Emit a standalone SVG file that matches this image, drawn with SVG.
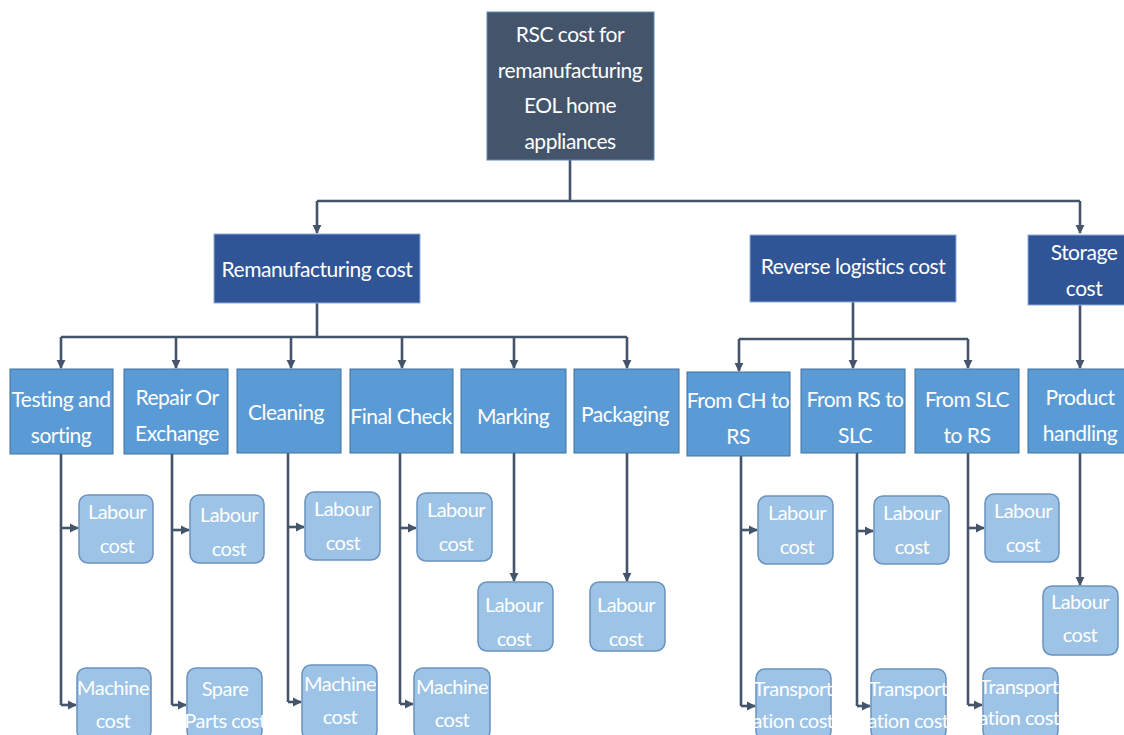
<svg xmlns="http://www.w3.org/2000/svg" width="1124" height="735" viewBox="0 0 1124 735">
  <defs>
    <marker id="arr" viewBox="0 0 10 10" refX="9" refY="5" markerWidth="3.5" markerHeight="3.5" orient="auto" markerUnits="strokeWidth">
      <path d="M0,0 L10,5 L0,10 Z" fill="#44546a"/>
    </marker>
    <style>
      text { font-family: Lato, "Open Sans", "Liberation Sans", sans-serif; fill: #ffffff; text-anchor: middle; dominant-baseline: central; letter-spacing: -0.5px; }
      .root { fill: #44546a; stroke: #5b87b8; stroke-width: 1; }
      .l1 { fill: #2f5597; stroke: #8eaadb; stroke-width: 1; }
      .l2 { fill: #5b9bd5; stroke: #41719c; stroke-width: 1; }
      .leaf { fill: #9dc3e6; stroke: #6a93bf; stroke-width: 1.5; }
      .t1 { font-size: 21px; }
      .t2 { font-size: 21px; }
      .t3 { font-size: 20px; }
      .conn { fill: none; stroke: #44546a; stroke-width: 2.6; }
      .conn-a { fill: none; stroke: #44546a; stroke-width: 2.6; marker-end: url(#arr); }
    </style>
  </defs>

  <rect width="1124" height="735" fill="#ffffff"/>

  <!-- connectors -->
  <g id="connectors">
    <path class="conn" d="M570,160 V201 M317,201 H1080"/>
    <path class="conn-a" d="M317,201 V233"/>
    <path class="conn-a" d="M1080,201 V233"/>

    <path class="conn" d="M317,303 V337 M61,337 H627"/>
    <path class="conn-a" d="M61,337 V368"/>
    <path class="conn-a" d="M176,337 V368"/>
    <path class="conn-a" d="M291,337 V368"/>
    <path class="conn-a" d="M402,337 V368"/>
    <path class="conn-a" d="M514,337 V368"/>
    <path class="conn-a" d="M627,337 V368"/>

    <path class="conn" d="M853,302 V339 M739,339 H968"/>
    <path class="conn-a" d="M739,339 V371"/>
    <path class="conn-a" d="M853,339 V368"/>
    <path class="conn-a" d="M968,339 V368"/>
    <path class="conn-a" d="M1080,305 V368"/>

    <!-- Testing and sorting -->
    <path class="conn" d="M61,454 V705"/>
    <path class="conn-a" d="M61,528 H78"/>
    <path class="conn-a" d="M61,705 H76"/>
    <!-- Repair Or Exchange -->
    <path class="conn" d="M172,454 V705"/>
    <path class="conn-a" d="M172,530 H189"/>
    <path class="conn-a" d="M172,705 H186"/>
    <!-- Cleaning -->
    <path class="conn" d="M288,453 V702"/>
    <path class="conn-a" d="M288,527 H304"/>
    <path class="conn-a" d="M288,702 H301"/>
    <!-- Final Check -->
    <path class="conn" d="M400,453 V704"/>
    <path class="conn-a" d="M400,528 H416"/>
    <path class="conn-a" d="M400,704 H413"/>
    <!-- Marking / Packaging -->
    <path class="conn-a" d="M514,453 V581"/>
    <path class="conn-a" d="M627,453 V581"/>
    <!-- From CH to RS -->
    <path class="conn" d="M741,456 V706"/>
    <path class="conn-a" d="M741,530 H757"/>
    <path class="conn-a" d="M741,706 H755"/>
    <!-- From RS to SLC -->
    <path class="conn" d="M857,453 V706"/>
    <path class="conn-a" d="M857,531 H873"/>
    <path class="conn-a" d="M857,706 H870"/>
    <!-- From SLC to RS -->
    <path class="conn" d="M968,453 V705"/>
    <path class="conn-a" d="M968,528 H984"/>
    <path class="conn-a" d="M968,705 H982"/>
    <!-- Product handling -->
    <path class="conn-a" d="M1080,453 V585"/>
  </g>

  <!-- root -->
  <g id="root">
    <rect class="root" x="487" y="12" width="167" height="148"/>
    <text class="t1" x="570" y="33">RSC cost for</text>
    <text class="t1" x="570" y="69">remanufacturing</text>
    <text class="t1" x="570" y="104">EOL home</text>
    <text class="t1" x="570" y="140">appliances</text>
  </g>

  <!-- level 1 -->
  <g id="remanufacturing-cost">
    <rect class="l1" x="214" y="234" width="206" height="69"/>
    <text class="t2" x="317" y="268">Remanufacturing cost</text>
  </g>
  <g id="reverse-logistics-cost">
    <rect class="l1" x="750" y="235" width="206" height="67"/>
    <text class="t2" x="853" y="265">Reverse logistics cost</text>
  </g>
  <g id="storage-cost">
    <rect class="l1" x="1028" y="235" width="100" height="70"/>
    <text class="t2" x="1084" y="251">Storage</text>
    <text class="t2" x="1084" y="287">cost</text>
  </g>

  <!-- level 2 -->
  <g id="testing-sorting">
    <rect class="l2" x="10" y="369" width="103" height="85"/>
    <text class="t2" x="61" y="398">Testing and</text>
    <text class="t2" x="61" y="434">sorting</text>
  </g>
  <g id="repair-exchange">
    <rect class="l2" x="124" y="369" width="104" height="85"/>
    <text class="t2" x="177" y="396">Repair Or</text>
    <text class="t2" x="177" y="432">Exchange</text>
  </g>
  <g id="cleaning">
    <rect class="l2" x="237" y="369" width="104" height="84"/>
    <text class="t2" x="286" y="411">Cleaning</text>
  </g>
  <g id="final-check">
    <rect class="l2" x="350" y="369" width="103" height="84"/>
    <text class="t2" x="401" y="415">Final Check</text>
  </g>
  <g id="marking">
    <rect class="l2" x="461" y="369" width="105" height="84"/>
    <text class="t2" x="513" y="415">Marking</text>
  </g>
  <g id="packaging">
    <rect class="l2" x="574" y="369" width="105" height="84"/>
    <text class="t2" x="625" y="413">Packaging</text>
  </g>
  <g id="ch-to-rs">
    <rect class="l2" x="687" y="372" width="103" height="84"/>
    <text class="t2" x="738" y="399">From CH to</text>
    <text class="t2" x="738" y="435">RS</text>
  </g>
  <g id="rs-to-slc">
    <rect class="l2" x="801" y="369" width="104" height="84"/>
    <text class="t2" x="855" y="398">From RS to</text>
    <text class="t2" x="855" y="434">SLC</text>
  </g>
  <g id="slc-to-rs">
    <rect class="l2" x="915" y="369" width="104" height="84"/>
    <text class="t2" x="967" y="398">From SLC</text>
    <text class="t2" x="967" y="434">to RS</text>
  </g>
  <g id="product-handling">
    <rect class="l2" x="1028" y="369" width="100" height="84"/>
    <text class="t2" x="1080" y="396">Product</text>
    <text class="t2" x="1080" y="432">handling</text>
  </g>

  <!-- level 3 -->
  <g id="ts-labour">
    <rect class="leaf" x="79" y="495" width="74" height="68" rx="9"/>
    <text class="t3" x="117" y="511">Labour</text>
    <text class="t3" x="117" y="545">cost</text>
  </g>
  <g id="ts-machine">
    <rect class="leaf" x="77" y="668" width="74" height="72" rx="9"/>
    <text class="t3" x="113" y="687">Machine</text>
    <text class="t3" x="113" y="720">cost</text>
  </g>
  <g id="re-labour">
    <rect class="leaf" x="190" y="495" width="74" height="68" rx="9"/>
    <text class="t3" x="229" y="514">Labour</text>
    <text class="t3" x="229" y="548">cost</text>
  </g>
  <g id="re-spare">
    <rect class="leaf" x="187" y="668" width="75" height="72" rx="9"/>
    <text class="t3" x="225" y="688">Spare</text>
    <text class="t3" x="225" y="720">Parts cost</text>
  </g>
  <g id="cl-labour">
    <rect class="leaf" x="305" y="492" width="75" height="68" rx="9"/>
    <text class="t3" x="343" y="508">Labour</text>
    <text class="t3" x="343" y="542">cost</text>
  </g>
  <g id="cl-machine">
    <rect class="leaf" x="302" y="665" width="75" height="75" rx="9"/>
    <text class="t3" x="340" y="683">Machine</text>
    <text class="t3" x="340" y="716">cost</text>
  </g>
  <g id="fc-labour">
    <rect class="leaf" x="417" y="493" width="75" height="68" rx="9"/>
    <text class="t3" x="456" y="509">Labour</text>
    <text class="t3" x="456" y="543">cost</text>
  </g>
  <g id="fc-machine">
    <rect class="leaf" x="414" y="668" width="76" height="72" rx="9"/>
    <text class="t3" x="452" y="686">Machine</text>
    <text class="t3" x="452" y="719">cost</text>
  </g>
  <g id="mk-labour">
    <rect class="leaf" x="478" y="582" width="75" height="69" rx="9"/>
    <text class="t3" x="514" y="604">Labour</text>
    <text class="t3" x="514" y="638">cost</text>
  </g>
  <g id="pk-labour">
    <rect class="leaf" x="590" y="582" width="75" height="69" rx="9"/>
    <text class="t3" x="626" y="604">Labour</text>
    <text class="t3" x="626" y="638">cost</text>
  </g>
  <g id="chrs-labour">
    <rect class="leaf" x="758" y="496" width="75" height="68" rx="9"/>
    <text class="t3" x="797" y="512">Labour</text>
    <text class="t3" x="797" y="546">cost</text>
  </g>
  <g id="chrs-transport">
    <rect class="leaf" x="756" y="669" width="75" height="71" rx="9"/>
    <text class="t3" x="793" y="688">Transport</text>
    <text class="t3" x="793" y="720">ation cost</text>
  </g>
  <g id="rsslc-labour">
    <rect class="leaf" x="874" y="496" width="75" height="68" rx="9"/>
    <text class="t3" x="912" y="512">Labour</text>
    <text class="t3" x="912" y="546">cost</text>
  </g>
  <g id="rsslc-transport">
    <rect class="leaf" x="871" y="669" width="75" height="71" rx="9"/>
    <text class="t3" x="908" y="688">Transport</text>
    <text class="t3" x="908" y="720">ation cost</text>
  </g>
  <g id="slcrs-labour">
    <rect class="leaf" x="985" y="494" width="74" height="68" rx="9"/>
    <text class="t3" x="1023" y="510">Labour</text>
    <text class="t3" x="1023" y="544">cost</text>
  </g>
  <g id="slcrs-transport">
    <rect class="leaf" x="983" y="668" width="75" height="72" rx="9"/>
    <text class="t3" x="1019" y="686">Transport</text>
    <text class="t3" x="1019" y="717">ation cost</text>
  </g>
  <g id="ph-labour">
    <rect class="leaf" x="1043" y="586" width="75" height="69" rx="9"/>
    <text class="t3" x="1080" y="601">Labour</text>
    <text class="t3" x="1080" y="634">cost</text>
  </g>
</svg>
